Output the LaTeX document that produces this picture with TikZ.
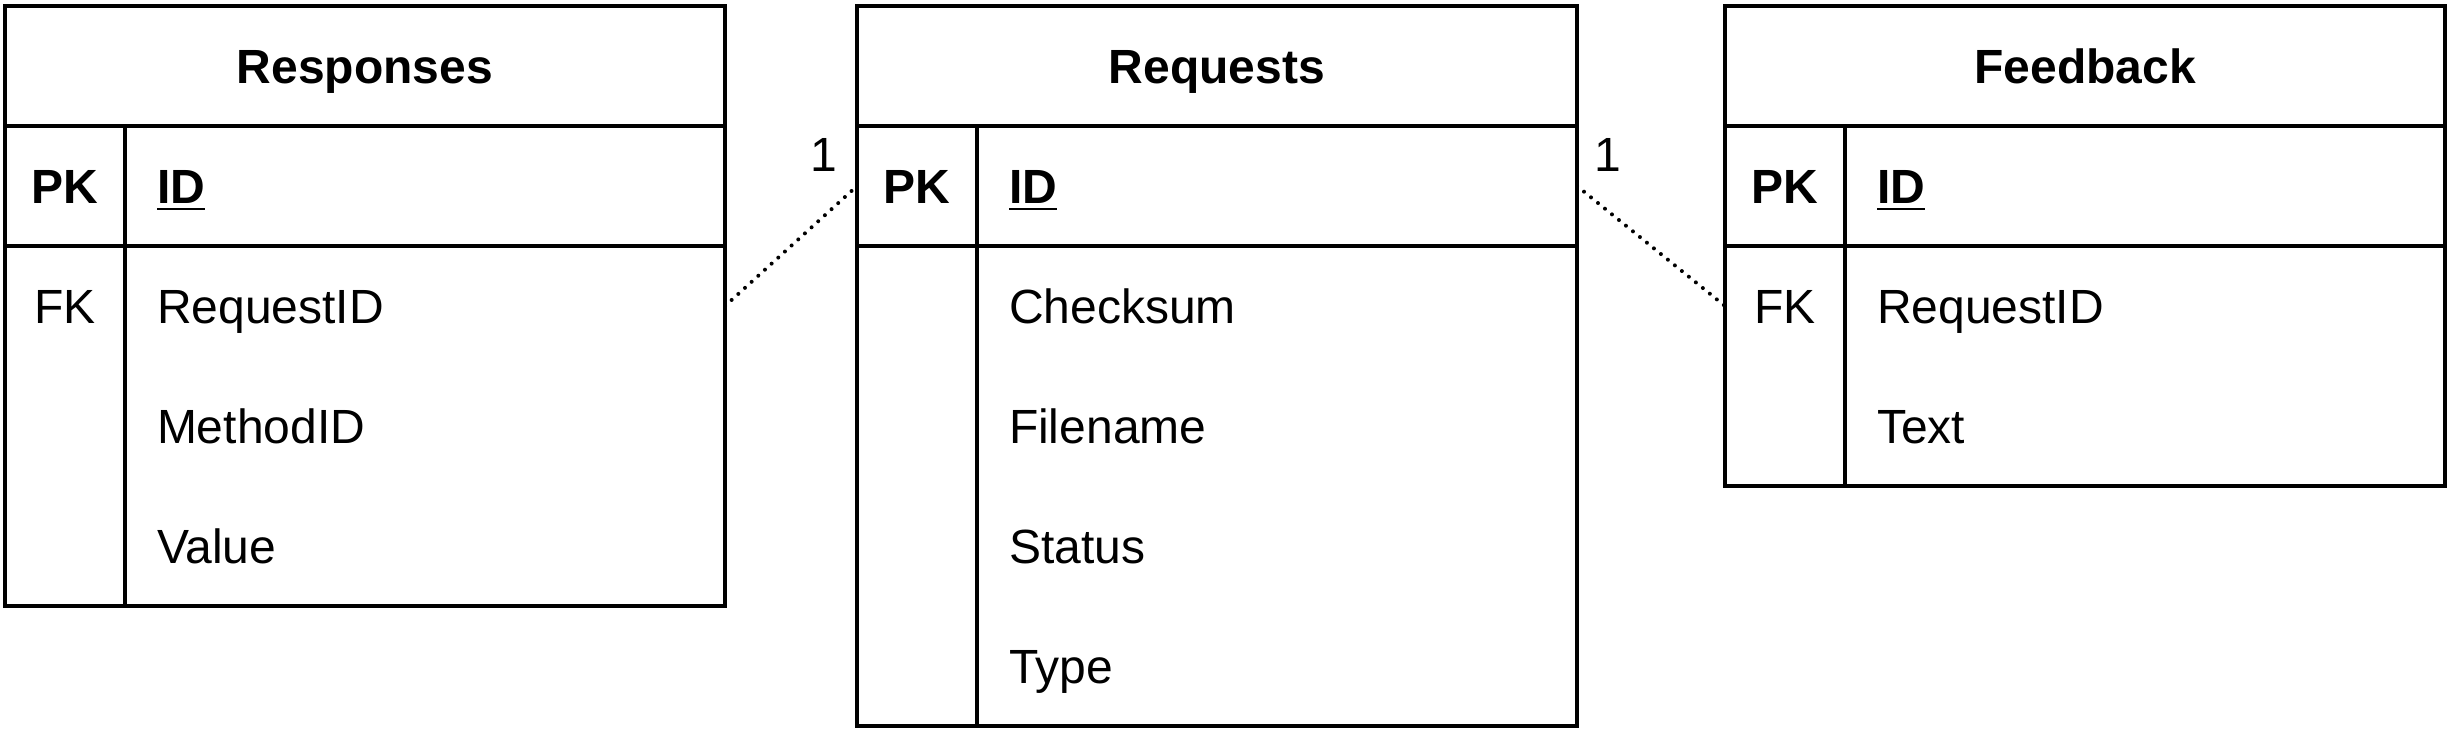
\documentclass[tikz,border=0pt]{standalone}
\usepackage{fontspec}
\setmainfont{Liberation Sans}
\newcommand\ulbold[1]{\underline{#1}}
\begin{document}
\begin{tikzpicture}[x=1pt,y=-1pt,
  every node/.style={inner sep=0pt, outer sep=0pt},
  tbl/.style={draw, line width=1pt, minimum width=180pt, anchor=north west},
  rowbox/.style={minimum width=180pt, minimum height=30pt, anchor=north west},
  txt/.style={font=\fontsize{12pt}{14pt}\selectfont, text height=8.6pt, text depth=0pt},
  title/.style={txt, font=\fontsize{12pt}{14pt}\selectfont\bfseries},
  keyb/.style={txt, font=\fontsize{12pt}{14pt}\selectfont\bfseries},
  field/.style={txt, anchor=west},
  fieldb/.style={txt, anchor=west, font=\fontsize{12pt}{14pt}\selectfont\bfseries},
  sep/.style={line width=1pt},
  conn/.style={line width=1pt, line cap=round, dash pattern=on 0pt off 2.25pt},
  lbl/.style={txt}
]
\useasboundingbox (0,0) rectangle (613,183);

% ---------- Responses ----------
\node[tbl, minimum height=150pt] (resp) at (1.25,1.5) {};
\node[rowbox] (resp-h)  at (1.25,1.5)   {};
\node[rowbox] (resp-pk) at (1.25,31.5)  {};
\node[rowbox] (resp-r1) at (1.25,61.5)  {};
\node[rowbox] (resp-r2) at (1.25,91.5)  {};
\node[rowbox] (resp-r3) at (1.25,121.5) {};
\draw[sep] (resp-h.south west) -- (resp-h.south east);
\draw[sep] (resp-pk.south west) -- (resp-pk.south east);
\draw[sep] ([xshift=30pt]resp-pk.north west) -- ([xshift=30pt]resp.south west);
\node[title] (resp-t) at (resp-h.center) {Responses};
\node[keyb] (resp-pkk) at ([xshift=15pt]resp-pk.west) {PK};
\node[fieldb] (resp-id) at ([xshift=38pt]resp-pk.west) {\ulbold{ID}};
\node[txt] (resp-fk) at ([xshift=15pt]resp-r1.west) {FK};
\node[field] (resp-f1) at ([xshift=38pt]resp-r1.west) {RequestID};
\node[field] (resp-f2) at ([xshift=38pt]resp-r2.west) {MethodID};
\node[field] (resp-f3) at ([xshift=38pt]resp-r3.west) {Value};

% ---------- Requests ----------
\node[tbl, minimum height=180pt] (req) at (214.25,1.5) {};
\node[rowbox] (req-h)  at (214.25,1.5)   {};
\node[rowbox] (req-pk) at (214.25,31.5)  {};
\node[rowbox] (req-r1) at (214.25,61.5)  {};
\node[rowbox] (req-r2) at (214.25,91.5)  {};
\node[rowbox] (req-r3) at (214.25,121.5) {};
\node[rowbox] (req-r4) at (214.25,151.5) {};
\draw[sep] (req-h.south west) -- (req-h.south east);
\draw[sep] (req-pk.south west) -- (req-pk.south east);
\draw[sep] ([xshift=30pt]req-pk.north west) -- ([xshift=30pt]req.south west);
\node[title] (req-t) at (req-h.center) {Requests};
\node[keyb] (req-pkk) at ([xshift=15pt]req-pk.west) {PK};
\node[fieldb] (req-id) at ([xshift=38pt]req-pk.west) {\ulbold{ID}};
\node[field] (req-f1) at ([xshift=38pt]req-r1.west) {Checksum};
\node[field] (req-f2) at ([xshift=38pt]req-r2.west) {Filename};
\node[field] (req-f3) at ([xshift=38pt]req-r3.west) {Status};
\node[field] (req-f4) at ([xshift=38pt]req-r4.west) {Type};

% ---------- Feedback ----------
\node[tbl, minimum height=120pt] (fb) at (431.25,1.5) {};
\node[rowbox] (fb-h)  at (431.25,1.5)  {};
\node[rowbox] (fb-pk) at (431.25,31.5) {};
\node[rowbox] (fb-r1) at (431.25,61.5) {};
\node[rowbox] (fb-r2) at (431.25,91.5) {};
\draw[sep] (fb-h.south west) -- (fb-h.south east);
\draw[sep] (fb-pk.south west) -- (fb-pk.south east);
\draw[sep] ([xshift=30pt]fb-pk.north west) -- ([xshift=30pt]fb.south west);
\node[title] (fb-t) at (fb-h.center) {Feedback};
\node[keyb] (fb-pkk) at ([xshift=15pt]fb-pk.west) {PK};
\node[fieldb] (fb-id) at ([xshift=38pt]fb-pk.west) {\ulbold{ID}};
\node[txt] (fb-fk) at ([xshift=15pt]fb-r1.west) {FK};
\node[field] (fb-f1) at ([xshift=38pt]fb-r1.west) {RequestID};
\node[field] (fb-f2) at ([xshift=38pt]fb-r2.west) {Text};

% ---------- Connectors ----------
\draw[conn] (resp-r1.east) -- (req-pk.west);
\draw[conn] (req-pk.east) -- (fb-r1.west);
\node[lbl] (l1) at ([xshift=-8.25pt,yshift=8pt]req-pk.west) {1};
\node[lbl] (l2) at ([xshift=7.75pt,yshift=8pt]req-pk.east) {1};
\end{tikzpicture}
\end{document}
